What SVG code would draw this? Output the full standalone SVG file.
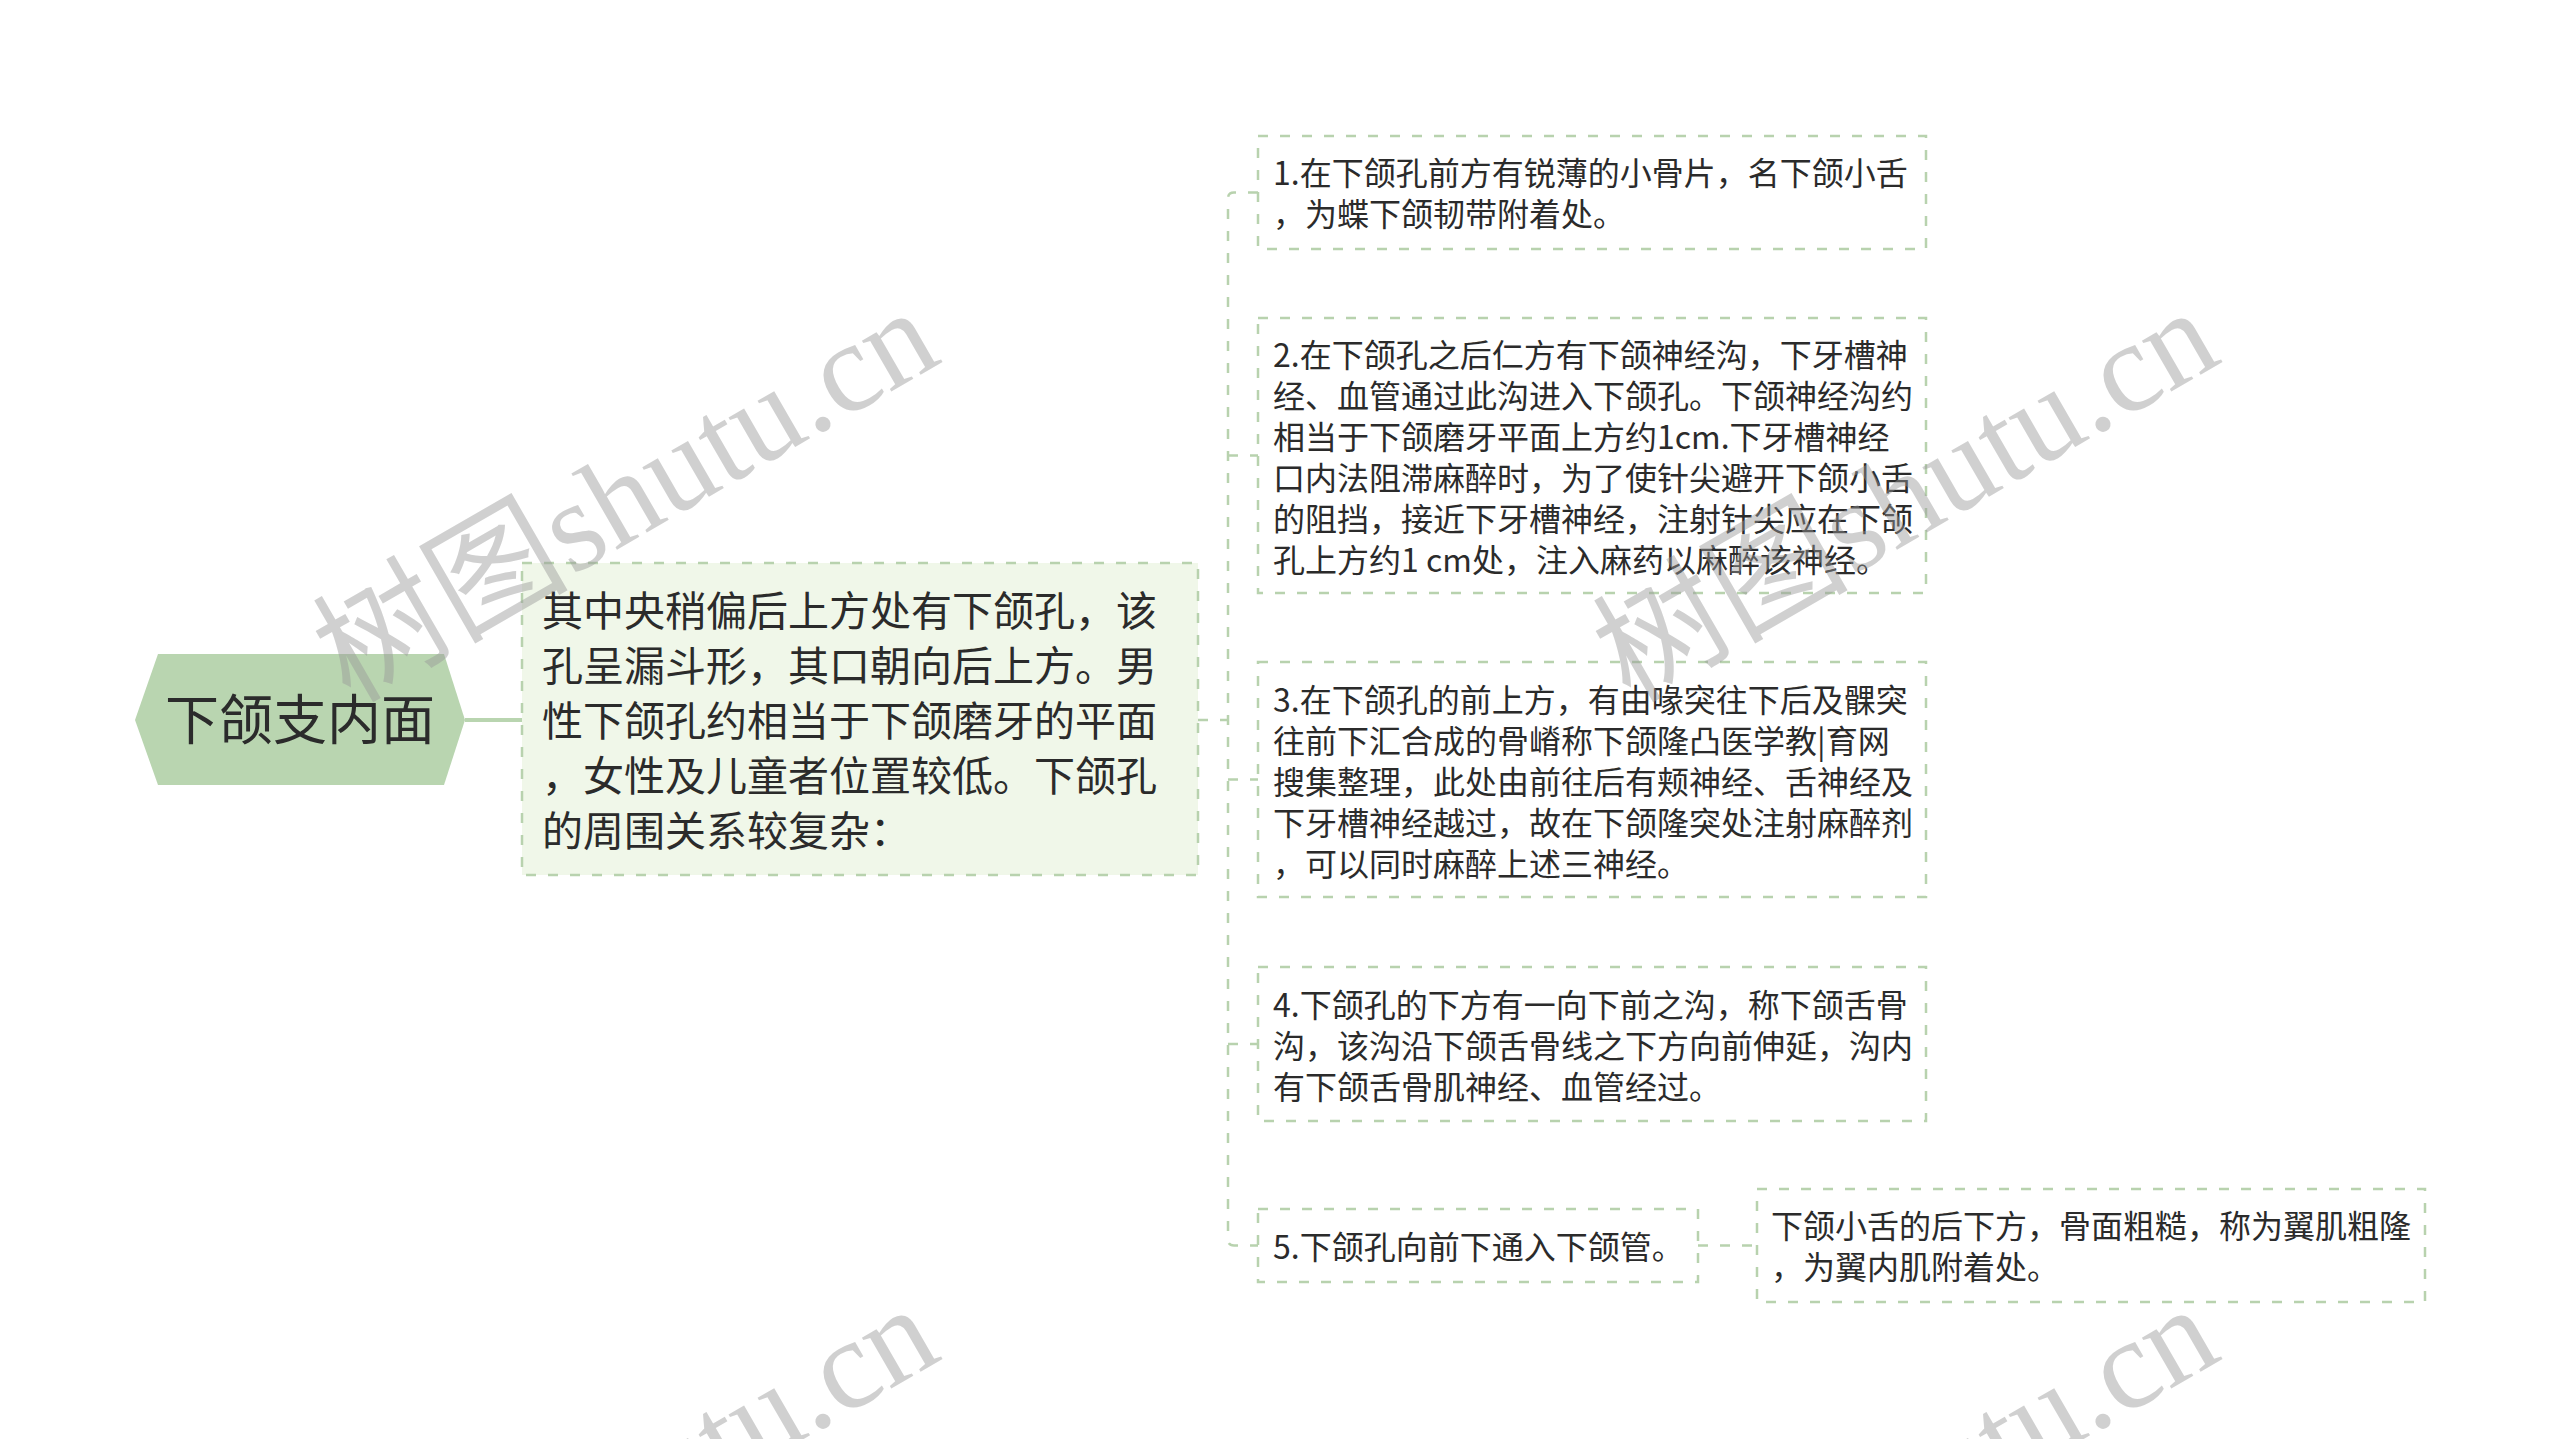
<svg xmlns="http://www.w3.org/2000/svg" width="2560" height="1439" viewBox="0 0 2560 1439">
<style>
.t{font-family:"Noto Sans CJK SC","Microsoft YaHei",sans-serif;fill:#2b2b2b}
.t3{font-size:32px}
.t2{font-size:41px}
.box{fill:#ffffff;stroke:#b8d2ae;stroke-width:2.5;stroke-dasharray:10 12}
.box2{fill:#f0f7e9;stroke:#b8d2ae;stroke-width:2.5;stroke-dasharray:10 12}
.ln{fill:none;stroke:#b8d2ae;stroke-width:2.5;stroke-dasharray:10 12}
.wm{font-family:"Liberation Serif","Noto Sans CJK SC",serif;font-size:128px;fill:#999999;opacity:0.45}
</style>
<rect width="2560" height="1439" fill="#ffffff"/>
<g id="connectors">
<line x1="465" y1="720" x2="522" y2="720" stroke="#b9d5b0" stroke-width="4"/>
<path class="ln" d="M1198 720 H1228"/>
<path class="ln" d="M1258 192.5 H1234 Q1228 192.5 1228 198.5 V1239.5 Q1228 1245.5 1234 1245.5 H1258"/>
<path class="ln" d="M1228 455.5 H1258"/>
<path class="ln" d="M1228 779.5 H1258"/>
<path class="ln" d="M1228 1044 H1258"/>
<path class="ln" d="M1698 1245.5 H1757"/>
</g>
<g id="root">
<polygon points="135,720 158,654 444,654 465,720 444,785 158,785" fill="#b9d5b0"/>
<text class="t" x="300" y="740" font-size="54" text-anchor="middle">下颌支内面</text>
</g>
<g id="n-main">
<rect class="box2" x="522" y="563" width="676" height="312"/>
<text class="t t2" x="542"><tspan x="542" y="626">其中央稍偏后上方处有下颌孔，该</tspan><tspan x="542" y="681">孔呈漏斗形，其口朝向后上方。男</tspan><tspan x="542" y="736">性下颌孔约相当于下颌磨牙的平面</tspan><tspan x="542" y="791">，女性及儿童者位置较低。下颌孔</tspan><tspan x="542" y="846">的周围关系较复杂：</tspan></text>
</g>
<g id="n1">
<rect class="box" x="1258" y="136" width="668" height="113"/>
<text class="t t3"><tspan x="1273" y="185">1.在下颌孔前方有锐薄的小骨片，名下颌小舌</tspan><tspan x="1273" y="226">，为蝶下颌韧带附着处。</tspan></text>
</g>
<g id="n2">
<rect class="box" x="1258" y="318" width="668" height="275"/>
<text class="t t3"><tspan x="1273" y="367">2.在下颌孔之后仁方有下颌神经沟，下牙槽神</tspan><tspan x="1273" y="408">经、血管通过此沟进入下颌孔。下颌神经沟约</tspan><tspan x="1273" y="449">相当于下颌磨牙平面上方约1cm.下牙槽神经</tspan><tspan x="1273" y="490">口内法阻滞麻醉时，为了使针尖避开下颌小舌</tspan><tspan x="1273" y="531">的阻挡，接近下牙槽神经，注射针尖应在下颌</tspan><tspan x="1273" y="572">孔上方约1 cm处，注入麻药以麻醉该神经。</tspan></text>
</g>
<g id="n3">
<rect class="box" x="1258" y="662" width="668" height="235"/>
<text class="t t3"><tspan x="1273" y="712">3.在下颌孔的前上方，有由喙突往下后及髁突</tspan><tspan x="1273" y="753">往前下汇合成的骨嵴称下颌隆凸医学教|育网</tspan><tspan x="1273" y="794">搜集整理，此处由前往后有颊神经、舌神经及</tspan><tspan x="1273" y="835">下牙槽神经越过，故在下颌隆突处注射麻醉剂</tspan><tspan x="1273" y="876">，可以同时麻醉上述三神经。</tspan></text>
</g>
<g id="n4">
<rect class="box" x="1258" y="967" width="668" height="154"/>
<text class="t t3"><tspan x="1273" y="1017">4.下颌孔的下方有一向下前之沟，称下颌舌骨</tspan><tspan x="1273" y="1058">沟，该沟沿下颌舌骨线之下方向前伸延，沟内</tspan><tspan x="1273" y="1099">有下颌舌骨肌神经、血管经过。</tspan></text>
</g>
<g id="n5">
<rect class="box" x="1258" y="1209" width="440" height="73"/>
<text class="t t3" x="1273" y="1259">5.下颌孔向前下通入下颌管。</text>
</g>
<g id="n6">
<rect class="box" x="1757" y="1189" width="668" height="113"/>
<text class="t t3"><tspan x="1771" y="1238">下颌小舌的后下方，骨面粗糙，称为翼肌粗隆</tspan><tspan x="1771" y="1279">，为翼内肌附着处。</tspan></text>
</g>
<g id="watermarks">
<text class="wm" x="350" y="704" transform="rotate(-30 350 704)">树图shutu.cn</text>
<text class="wm" x="1630" y="704" transform="rotate(-30 1630 704)">树图shutu.cn</text>
<text class="wm" x="350" y="1701" transform="rotate(-30 350 1701)">树图shutu.cn</text>
<text class="wm" x="1630" y="1701" transform="rotate(-30 1630 1701)">树图shutu.cn</text>
</g>
</svg>
